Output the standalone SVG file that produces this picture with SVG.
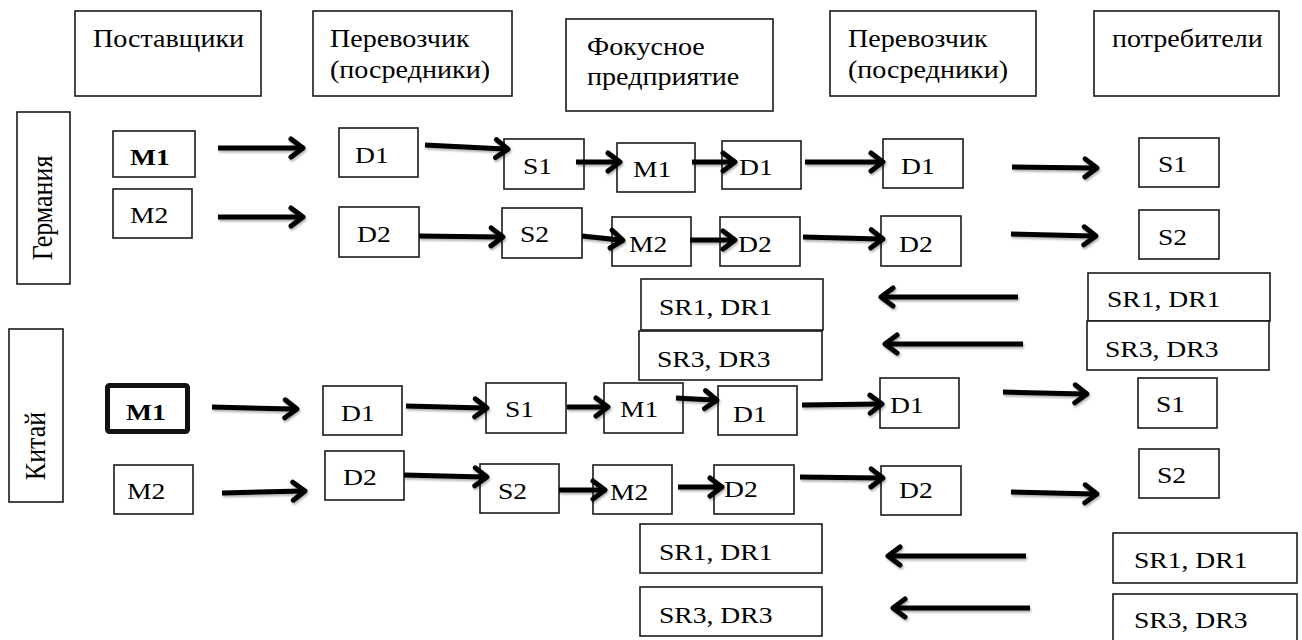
<svg xmlns="http://www.w3.org/2000/svg" width="1302" height="640" viewBox="0 0 1302 640">
<style>
.b{fill:#fff;stroke:#1a1a1a;stroke-width:1.6}
.bk{fill:#fff;stroke:#111;stroke-width:5}
text{font-family:'Liberation Serif','Times New Roman','DejaVu Serif',serif;fill:#000}
.t{font-size:24px}
.h{font-size:26px}
.bold{font-weight:bold}
.a{stroke:#000;stroke-width:5;fill:none;marker-end:url(#ah)}
</style>
<defs>
<marker id="ah" markerUnits="userSpaceOnUse" markerWidth="24" markerHeight="26" refX="13" refY="13" orient="auto">
<path d="M4,4 L16,13 L4,22" fill="none" stroke="#000" stroke-width="5" stroke-linecap="round" stroke-linejoin="round"/>
</marker>
<filter id="sh" filterUnits="userSpaceOnUse" x="0" y="0" width="1302" height="640">
<feDropShadow dx="1" dy="2" stdDeviation="1.2" flood-color="#000" flood-opacity="0.3"/>
</filter>
</defs>

<g id="headers">
<g id="h-suppliers"><rect class="b" x="75" y="11" width="186" height="85"/><text class="h" transform="translate(93 47) scale(1.08 1)">Поставщики</text></g>
<g id="h-carrier1"><rect class="b" x="313" y="11" width="199" height="85"/><text class="h" transform="translate(330 47) scale(1.08 1)">Перевозчик</text><text class="h" transform="translate(330 78) scale(1.08 1)">(посредники)</text></g>
<g id="h-focal"><rect class="b" x="566" y="19" width="207" height="92"/><text class="h" transform="translate(587 55) scale(1.08 1)">Фокусное</text><text class="h" transform="translate(587 85) scale(1.08 1)">предприятие</text></g>
<g id="h-carrier2"><rect class="b" x="830" y="11" width="206" height="85"/><text class="h" transform="translate(848 47) scale(1.08 1)">Перевозчик</text><text class="h" transform="translate(848 78) scale(1.08 1)">(посредники)</text></g>
<g id="h-consumers"><rect class="b" x="1094" y="11" width="185" height="85"/><text class="h" transform="translate(1112 47) scale(1.08 1)">потребители</text></g>
</g>

<g id="country-germany"><rect class="b" x="17" y="112" width="53" height="172"/><text class="h" text-anchor="middle" transform="translate(52 208) rotate(-90) scale(1 1.15)">Германия</text></g>
<g id="country-china"><rect class="b" x="9" y="329" width="54" height="173"/><text class="h" text-anchor="middle" transform="translate(45 446) rotate(-90) scale(1 1.15)">Китай</text></g>

<g id="germany">
<g id="g-M1"><rect class="b" x="113" y="131" width="82" height="46"/><text class="t bold" transform="translate(130 165) scale(1.15 1)">M1</text></g>
<g id="g-M2"><rect class="b" x="113" y="189" width="79" height="49"/><text class="t" transform="translate(130 223) scale(1.15 1)">M2</text></g>
<g id="g-D1"><rect class="b" x="339" y="128" width="79" height="49"/><text class="t" transform="translate(355 163) scale(1.15 1)">D1</text></g>
<g id="g-D2"><rect class="b" x="339" y="207" width="80" height="50"/><text class="t" transform="translate(357 242) scale(1.15 1)">D2</text></g>
<g id="g-S1"><rect class="b" x="504" y="139" width="80" height="50"/><text class="t" transform="translate(523 174) scale(1.15 1)">S1</text></g>
<g id="g-S2"><rect class="b" x="502" y="208" width="80" height="50"/><text class="t" transform="translate(520 242) scale(1.15 1)">S2</text></g>
<g id="g-FM1"><rect class="b" x="617" y="143" width="78" height="49"/><text class="t" transform="translate(633 177) scale(1.15 1)">M1</text></g>
<g id="g-FM2"><rect class="b" x="612" y="217" width="79" height="49"/><text class="t" transform="translate(629 252) scale(1.15 1)">M2</text></g>
<g id="g-FD1"><rect class="b" x="722" y="141" width="79" height="48"/><text class="t" transform="translate(739 175) scale(1.15 1)">D1</text></g>
<g id="g-FD2"><rect class="b" x="720" y="217" width="80" height="49"/><text class="t" transform="translate(738 252) scale(1.15 1)">D2</text></g>
<g id="g-CD1"><rect class="b" x="883" y="139" width="80" height="49"/><text class="t" transform="translate(901 174) scale(1.15 1)">D1</text></g>
<g id="g-CD2"><rect class="b" x="881" y="216" width="80" height="50"/><text class="t" transform="translate(899 252) scale(1.15 1)">D2</text></g>
<g id="g-PS1"><rect class="b" x="1139" y="138" width="80" height="49"/><text class="t" transform="translate(1158 172) scale(1.15 1)">S1</text></g>
<g id="g-PS2"><rect class="b" x="1139" y="210" width="80" height="49"/><text class="t" transform="translate(1158 245) scale(1.15 1)">S2</text></g>
<g id="g-SR1L"><rect class="b" x="641" y="279" width="182" height="51"/><text class="t" transform="translate(659 315) scale(1.15 1)">SR1, DR1</text></g>
<g id="g-SR3L"><rect class="b" x="639" y="331" width="183" height="49"/><text class="t" transform="translate(657 367) scale(1.15 1)">SR3, DR3</text></g>
<g id="g-SR1R"><rect class="b" x="1088" y="273" width="182" height="48"/><text class="t" transform="translate(1107 307) scale(1.15 1)">SR1, DR1</text></g>
<g id="g-SR3R"><rect class="b" x="1087" y="321" width="182" height="49"/><text class="t" transform="translate(1105 357) scale(1.15 1)">SR3, DR3</text></g>
</g>

<g id="china">
<g id="c-M1"><rect class="bk" x="107.5" y="385.5" width="80" height="46" rx="2"/><text class="t bold" transform="translate(126 420) scale(1.15 1)">M1</text></g>
<g id="c-M2"><rect class="b" x="114" y="465" width="79" height="49"/><text class="t" transform="translate(127 499) scale(1.15 1)">M2</text></g>
<g id="c-D1"><rect class="b" x="323" y="386" width="79" height="49"/><text class="t" transform="translate(341 421) scale(1.15 1)">D1</text></g>
<g id="c-D2"><rect class="b" x="325" y="451" width="79" height="49"/><text class="t" transform="translate(343 485) scale(1.15 1)">D2</text></g>
<g id="c-S1"><rect class="b" x="486" y="383" width="80" height="50"/><text class="t" transform="translate(505 417) scale(1.15 1)">S1</text></g>
<g id="c-S2"><rect class="b" x="480" y="464" width="79" height="49"/><text class="t" transform="translate(498 499) scale(1.15 1)">S2</text></g>
<g id="c-FM1"><rect class="b" x="604" y="383" width="79" height="50"/><text class="t" transform="translate(620 417) scale(1.15 1)">M1</text></g>
<g id="c-FM2"><rect class="b" x="593" y="465" width="79" height="49"/><text class="t" transform="translate(610 500) scale(1.15 1)">M2</text></g>
<g id="c-FD1"><rect class="b" x="718" y="386" width="79" height="49"/><text class="t" transform="translate(733 422) scale(1.15 1)">D1</text></g>
<g id="c-FD2"><rect class="b" x="714" y="465" width="80" height="49"/><text class="t" transform="translate(724 497) scale(1.15 1)">D2</text></g>
<g id="c-CD1"><rect class="b" x="880" y="378" width="79" height="50"/><text class="t" transform="translate(890 413) scale(1.15 1)">D1</text></g>
<g id="c-CD2"><rect class="b" x="881" y="466" width="80" height="49"/><text class="t" transform="translate(899 498) scale(1.15 1)">D2</text></g>
<g id="c-PS1"><rect class="b" x="1138" y="378" width="79" height="50"/><text class="t" transform="translate(1156 412) scale(1.15 1)">S1</text></g>
<g id="c-PS2"><rect class="b" x="1139" y="449" width="80" height="49"/><text class="t" transform="translate(1157 483) scale(1.15 1)">S2</text></g>
<g id="c-SR1L"><rect class="b" x="640" y="524" width="182" height="49"/><text class="t" transform="translate(659 560) scale(1.15 1)">SR1, DR1</text></g>
<g id="c-SR3L"><rect class="b" x="640" y="587" width="182" height="49"/><text class="t" transform="translate(659 623) scale(1.15 1)">SR3, DR3</text></g>
<g id="c-SR1R"><rect class="b" x="1113" y="533" width="184" height="50"/><text class="t" transform="translate(1134 568) scale(1.15 1)">SR1, DR1</text></g>
<g id="c-SR3R"><rect class="b" x="1113" y="594" width="184" height="50"/><text class="t" transform="translate(1134 628) scale(1.15 1)">SR3, DR3</text></g>
</g>

<g id="connectors" filter="url(#sh)">
<line class="a" x1="218" y1="148" x2="300" y2="148"/>
<line class="a" x1="218" y1="217" x2="300" y2="217"/>
<line class="a" x1="425" y1="145" x2="505" y2="149"/>
<line class="a" x1="576" y1="162" x2="617" y2="162"/>
<line class="a" x1="692" y1="162" x2="732" y2="162"/>
<line class="a" x1="805" y1="162" x2="880" y2="162"/>
<line class="a" x1="1012" y1="167" x2="1094" y2="168"/>
<line class="a" x1="419" y1="236" x2="500" y2="237"/>
<line class="a" x1="582" y1="236" x2="620" y2="240"/>
<line class="a" x1="690" y1="240" x2="732" y2="240"/>
<line class="a" x1="803" y1="237" x2="880" y2="239"/>
<line class="a" x1="1011" y1="234" x2="1093" y2="236"/>
<line class="a" x1="1018" y1="297" x2="884" y2="297"/>
<line class="a" x1="1023" y1="344" x2="888" y2="344"/>
<line class="a" x1="212" y1="407" x2="294" y2="409"/>
<line class="a" x1="222" y1="493" x2="302" y2="491"/>
<line class="a" x1="406" y1="406" x2="484" y2="408"/>
<line class="a" x1="567" y1="407" x2="605" y2="407"/>
<line class="a" x1="676" y1="398" x2="714" y2="400"/>
<line class="a" x1="802" y1="405" x2="879" y2="404"/>
<line class="a" x1="1003" y1="392" x2="1084" y2="394"/>
<line class="a" x1="404" y1="475" x2="484" y2="477"/>
<line class="a" x1="559" y1="490" x2="602" y2="490"/>
<line class="a" x1="678" y1="487" x2="719" y2="487"/>
<line class="a" x1="800" y1="477" x2="880" y2="478"/>
<line class="a" x1="1011" y1="492" x2="1094" y2="494"/>
<line class="a" x1="1026" y1="556" x2="891" y2="556"/>
<line class="a" x1="1030" y1="608" x2="896" y2="608"/>
</g>
</svg>
